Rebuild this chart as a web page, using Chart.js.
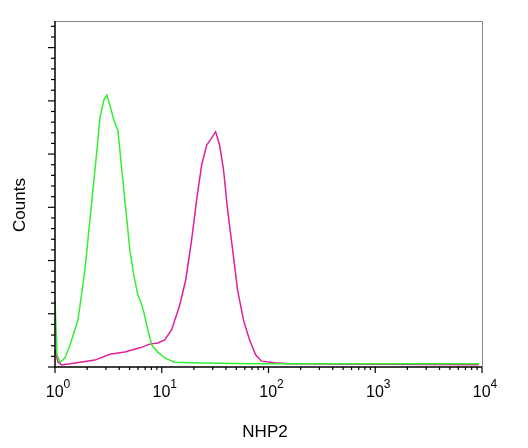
<!DOCTYPE html>
<html><head><script src="https://cdn.jsdelivr.net/npm/chart.js@4"></script>
<style>html,body{margin:0;background:#fff}#w{width:528px;height:448px}</style></head>
<body><div id="w"><canvas id="c"></canvas></div>
<script>
const xTickExponents=['0','1','2','3','4'];
const greenLog=[0,.019,.047,.093,.14,.215,.28,.346,.393,.421,.458,.486,.514,.551,.589,.626,.664,.701,.738,.776,.804,.832,.869,.907,.963,1.028,1.121,1.262,1.822,3.97];
const greenCounts=[126,23,9,17,41,88,182,314,408,468,502,511,492,464,445,370,295,220,173,135,122,103,70,41,28,17,9,8,6,6];
const magLog=[0,.028,.065,.14,.234,.374,.514,.654,.794,.888,.963,1.028,1.093,1.168,1.224,1.28,1.327,1.374,1.421,1.467,1.505,1.542,1.579,1.617,1.664,1.71,1.766,1.822,1.879,1.935,2.056,2.196,3.97];
const magCounts=[32,9,4,6,9,13,24,28,36,43,45,51,70,116,163,239,314,380,417,430,442,417,370,295,220,145,88,51,23,11,8,6,4];
const pts=(xs,ys)=>xs.map((x,i)=>({x,y:ys[i]}));
const deco={id:'deco',afterDraw(ch){
 const c=ch.ctx,a=ch.chartArea,xs=ch.scales.x,ys=ch.scales.y;
 c.save();
 c.strokeStyle='#888';c.lineWidth=1;
 c.beginPath();c.moveTo(a.left,a.top+.5);c.lineTo(a.right+.5,a.top+.5);c.lineTo(a.right+.5,a.bottom);c.stroke();
 c.strokeStyle='#000';c.lineWidth=1.5;
 c.beginPath();c.moveTo(a.left,a.top);c.lineTo(a.left,a.bottom);c.lineTo(a.right,a.bottom);c.stroke();
 c.lineWidth=1.2;
 for(let v=0;v<=650;v+=20){const p=ys.getPixelForValue(v);const L=v%100===0?7:4;c.beginPath();c.moveTo(a.left-L,p);c.lineTo(a.left,p);c.stroke();}
 for(let d=0;d<4;d++)for(let k=1;k<10;k++){const p=xs.getPixelForValue(d+Math.log10(k));const L=k===1?6:3;c.beginPath();c.moveTo(p,a.bottom);c.lineTo(p,a.bottom+L);c.stroke();}
 {const p=xs.getPixelForValue(4);c.beginPath();c.moveTo(p,a.bottom);c.lineTo(p,a.bottom+6);c.stroke();}
 c.fillStyle='#000';c.textBaseline='alphabetic';
 xTickExponents.forEach((e,i)=>{const p=xs.getPixelForValue(i);
   c.font='16px "Liberation Sans"';const w=c.measureText('10').width;
   c.font='12px "Liberation Sans"';const we=c.measureText(e).width;
   const x0=p-(w+we)/2+3;
   c.font='16px "Liberation Sans"';c.textAlign='left';c.fillText('10',x0,a.bottom+30);
   c.font='12px "Liberation Sans"';c.fillText(e,x0+w,a.bottom+21);});
 c.font='17px "Liberation Sans"';c.textAlign='center';c.textBaseline='top';
 c.fillText('NHP2',265,424);
 c.translate(20,205);c.rotate(-Math.PI/2);c.textBaseline='middle';c.fillText('Counts',0,0);
 c.restore();}};
new Chart(document.getElementById('c'),{type:'scatter',
 data:{datasets:[
  {data:pts(greenLog,greenCounts),showLine:true,borderColor:'#33ee33',borderWidth:1.5,pointRadius:0},
  {data:pts(magLog,magCounts),showLine:true,borderColor:'#e0209a',borderWidth:1.5,pointRadius:0}]},
 options:{responsive:true,maintainAspectRatio:false,animation:false,
  layout:{padding:{top:21,right:46,left:0,bottom:0}},
  plugins:{legend:{display:false},tooltip:{enabled:false}},
  scales:{
   x:{type:'linear',min:0,max:4,grid:{display:false},border:{display:false},ticks:{display:false},afterFit(s){s.height=81;}},
   y:{min:0,max:650,grid:{display:false},border:{display:false},ticks:{display:false},afterFit(s){s.width=55;}}}},
 plugins:[deco]});
</script></body></html>
